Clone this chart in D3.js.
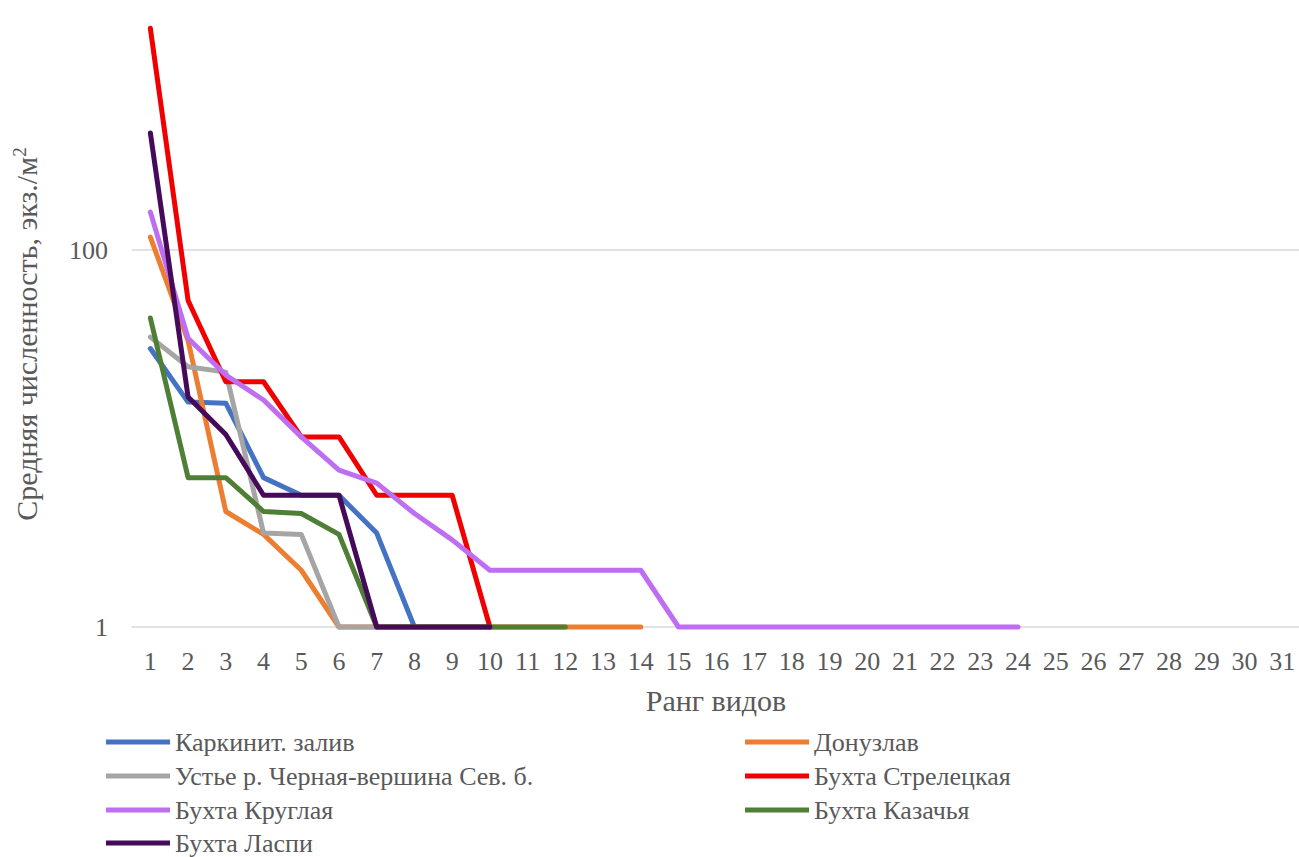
<!DOCTYPE html>
<html><head><meta charset="utf-8">
<script src="https://cdn.jsdelivr.net/npm/d3@7"></script>
<style>body{margin:0;background:#fff}svg{display:block}text{font-family:"Liberation Serif","Times New Roman",Tinos,"DejaVu Serif",serif !important;fill:#595959}</style>
</head><body>
<svg id="c" width="1299" height="857"></svg>
<script>
const ranks = d3.range(1, 32);
const yTicks = [1, 100];
const seriesNames = ["Каркинит. залив","Донузлав","Устье р. Черная-вершина Сев. б.","Бухта Стрелецкая","Бухта Круглая","Бухта Казачья","Бухта Ласпи"];
const seriesColors = ["#4472C4","#ED7D31","#A5A5A5","#F00000","#BF6EF2","#4F7F35","#450A5A"];
const karkinit   = [30, 15.6, 15.4, 6.2, 5.0, 5.0, 3.15, 1];
const donuzlav   = [117, 33, 4.1, 3.1, 2.0, 1, 1, 1, 1, 1, 1, 1, 1, 1];
const ustye      = [34.5, 24, 22.5, 3.15, 3.1, 1, 1];
const streletska = [1500, 54, 20, 20, 10.2, 10.2, 5, 5, 5, 1];
const kruglaya   = [159, 34, 21.7, 16, 10.2, 6.8, 5.8, 4.0, 2.9, 2, 2, 2, 2, 2, 1, 1, 1, 1, 1, 1, 1, 1, 1, 1];
const kazachya   = [43.6, 6.2, 6.2, 4.1, 4.0, 3.1, 1, 1, 1, 1, 1, 1];
const laspi      = [418, 16.6, 10.5, 5, 5, 5, 1, 1, 1, 1];
const seriesValues = [karkinit, donuzlav, ustye, streletska, kruglaya, kazachya, laspi];

const svg = d3.select("#c");
const x = d3.scaleBand().domain(ranks).range([131.5, 1301]);
const cx = r => x(r) + x.bandwidth() / 2;
const y = d3.scaleLog().domain([1, 100]).range([627, 250]);

svg.append("g").selectAll("line").data(yTicks).join("line")
  .attr("x1", 131.5).attr("x2", 1299).attr("y1", d => y(d)).attr("y2", d => y(d))
  .attr("stroke", "#d9d9d9").attr("stroke-width", 1.5);

const yAxis = d3.axisLeft(y).tickValues(yTicks).tickFormat(d3.format("d")).tickSize(0).tickPadding(0);
const ya = svg.append("g").attr("transform", "translate(108,0)").call(yAxis);
ya.select(".domain").remove();
ya.attr("font-family", null);
ya.selectAll("text").attr("font-size", 26).attr("fill", "#595959").attr("dy", "0.32em");

const xAxis = d3.axisBottom(x).tickSize(0).tickPadding(0);
const xa = svg.append("g").attr("transform", "translate(0,652)").call(xAxis);
xa.select(".domain").remove();
xa.attr("font-family", null);
xa.selectAll("text").attr("font-size", 26).attr("fill", "#595959").attr("dy", "0.71em");

const line = d3.line().x((d, i) => cx(ranks[i])).y(d => y(d));
svg.append("g").selectAll("path").data(seriesValues).join("path")
  .attr("d", d => line(d)).attr("fill", "none")
  .attr("stroke", (d, i) => seriesColors[i]).attr("stroke-width", 5)
  .attr("stroke-linejoin", "round").attr("stroke-linecap", "round");

svg.append("text").attr("x", 716).attr("y", 711).attr("text-anchor", "middle")
  .attr("font-size", 30).text("Ранг видов");
const yt = svg.append("text").attr("transform", "translate(37,334) rotate(-90)")
  .attr("text-anchor", "middle").attr("font-size", 30);
yt.append("tspan").text("Средняя  численность, экз./м");
yt.append("tspan").attr("font-size", 19).attr("dy", -11).text("2");

const legPos = [[106,742],[745,742],[106,776],[745,776],[106,810],[745,810],[106,843]];
const lg = svg.append("g").selectAll("g").data(seriesNames).join("g")
  .attr("transform", (d, i) => `translate(${legPos[i][0]},${legPos[i][1]})`);
lg.append("line").attr("x1", 0).attr("x2", 64).attr("y1", 0).attr("y2", 0)
  .attr("stroke", (d, i) => seriesColors[i]).attr("stroke-width", 5);
lg.append("text").attr("x", 69).attr("y", 0).attr("dy", "0.35em").attr("font-size", 26).text(d => d);
</script>
</body></html>
